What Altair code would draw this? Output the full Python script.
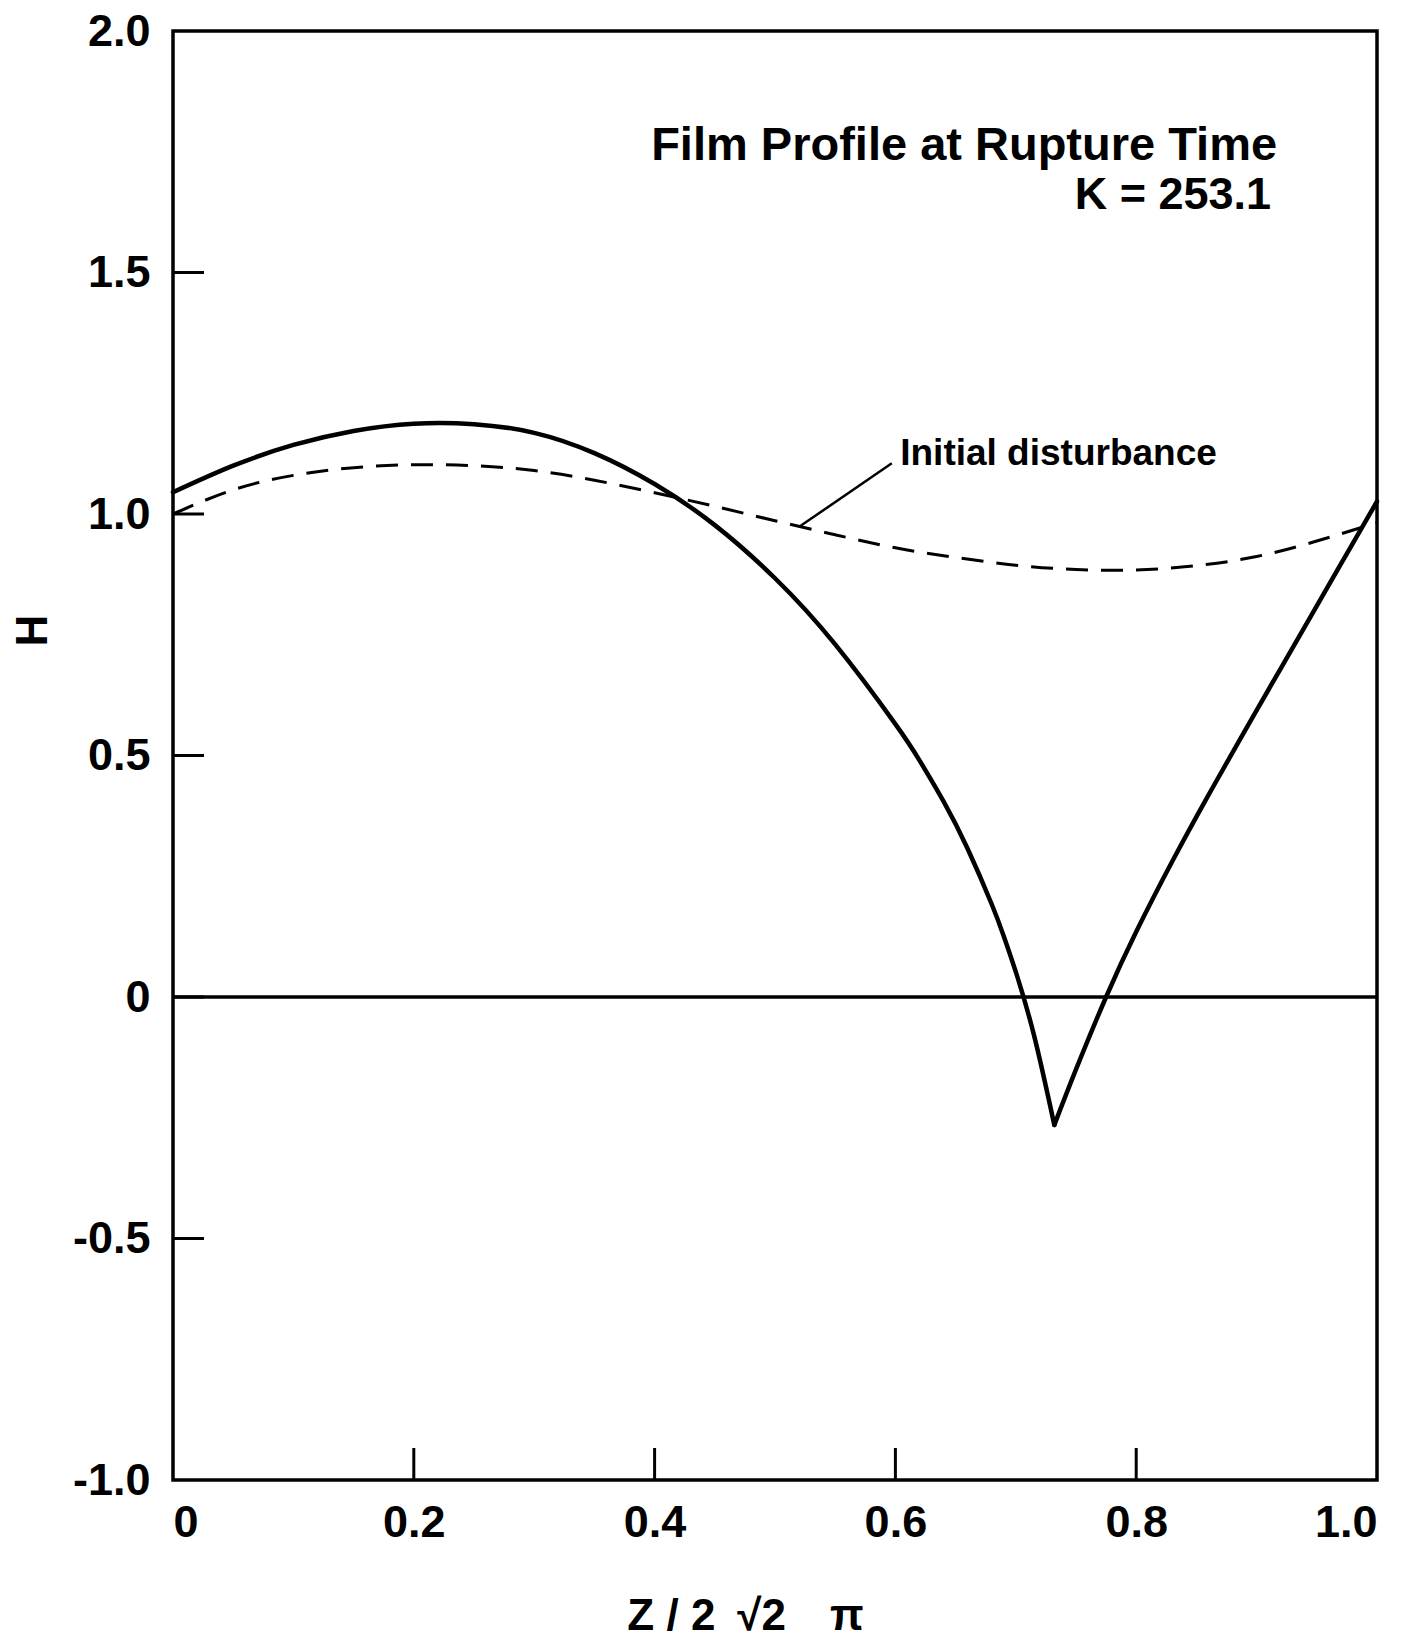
import altair as alt
import pandas as pd

# ---- data ----
# solid curve: film profile at rupture time (left branch up to the cusp, then right branch)
solid_left_x = [0.0, 0.05, 0.10, 0.15, 0.20, 0.25, 0.30, 0.35, 0.40, 0.45, 0.50,
                0.55, 0.60, 0.62, 0.64, 0.66, 0.68, 0.69, 0.70, 0.715, 0.732]
solid_left_h = [1.045, 1.100, 1.143, 1.172, 1.187, 1.186, 1.168, 1.126, 1.062, 0.977, 0.867,
                0.730, 0.565, 0.490, 0.405, 0.307, 0.192, 0.126, 0.052, -0.078, -0.265]
solid_right_x = [0.732, 0.75, 0.775, 0.80, 0.83, 0.86, 0.89, 0.92, 0.95, 0.975, 1.0]
solid_right_h = [-0.265, -0.150, 0.0, 0.135, 0.281, 0.418, 0.550, 0.680, 0.810, 0.918, 1.026]

# dashed curve: initial disturbance
dash_x = [0.0, 0.05, 0.10, 0.15, 0.20, 0.25, 0.30, 0.35, 0.40, 0.45, 0.50,
          0.55, 0.60, 0.65, 0.70, 0.75, 0.80, 0.85, 0.90, 0.95, 1.0]
dash_h = [1.0, 1.05, 1.08, 1.096, 1.102, 1.100, 1.090, 1.070, 1.044, 1.016, 0.986,
          0.957, 0.930, 0.910, 0.894, 0.885, 0.884, 0.893, 0.912, 0.944, 0.982]

# leader line for the "Initial disturbance" label
leader_x = [0.521, 0.597]
leader_h = [0.975, 1.105]

# annotations
title_text = ["Film Profile at Rupture Time"]
title_x = [0.917]
title_h = [1.733]

k_text = ["K = 253.1"]
k_x = [0.912]
k_h = [1.631]

label_text = ["Initial disturbance"]
label_x = [0.604]
label_h = [1.102]

x_ticks = [0.0, 0.2, 0.4, 0.6, 0.8, 1.0]
y_ticks = [-1.0, -0.5, 0.0, 0.5, 1.0, 1.5, 2.0]
x_inner_ticks = [0.2, 0.4, 0.6, 0.8]
y_inner_ticks = [-0.5, 0.0, 0.5, 1.0, 1.5]
zero_line = [0.0]

W, H = 1204, 1449
FONT = "Liberation Sans"

# ---- tables ----
df_solid = pd.DataFrame(
    [{"x": x, "h": h, "seg": "a"} for x, h in zip(solid_left_x, solid_left_h)]
    + [{"x": x, "h": h, "seg": "b"} for x, h in zip(solid_right_x, solid_right_h)]
)
df_dash = pd.DataFrame({"x": dash_x, "h": dash_h})
df_leader = pd.DataFrame({"x": leader_x, "h": leader_h})
df_title = pd.DataFrame({"x": title_x, "h": title_h, "t": title_text})
df_k = pd.DataFrame({"x": k_x, "h": k_h, "t": k_text})
df_label = pd.DataFrame({"x": label_x, "h": label_h, "t": label_text})
df_xt = pd.DataFrame({"x": x_inner_ticks})
df_yt = pd.DataFrame({"h": y_inner_ticks})
df_zero = pd.DataFrame({"h": zero_line})

xs = alt.Scale(domain=[0, 1], nice=False, zero=False)
ys = alt.Scale(domain=[-1, 2], nice=False, zero=False)

lab_expr = ("datum.value == 0 ? '0' : "
            "(datum.value < 0 ? '-' : '') + format(abs(datum.value), '.1f')")

x_axis = alt.Axis(values=x_ticks, labelExpr=lab_expr, domain=False, ticks=False, grid=False,
                  labelFont=FONT, labelFontWeight="bold", labelFontSize=45, labelColor="black",
                  labelPadding=20,
                  title="Z / 2\u2002\u221a2\u2002\u2002\u03c0", titleFont=FONT,
                  titleFontWeight="bold",
                  titleFontSize=44, titleColor="black", titleX=572, titleY=136,
                  titleAlign="center", titleBaseline="middle")
y_axis = alt.Axis(values=y_ticks, labelExpr=lab_expr, domain=False, ticks=False, grid=False,
                  labelFont=FONT, labelFontWeight="bold", labelFontSize=45, labelColor="black",
                  labelPadding=23,
                  title="H", titleFont=FONT, titleFontWeight="bold", titleFontSize=44,
                  titleColor="black", titleX=-140, titleY=599, titleAlign="center",
                  titleBaseline="middle", titleAngle=270)


def X():
    return alt.X("x:Q", scale=xs, axis=x_axis)


def Y():
    return alt.Y("h:Q", scale=ys, axis=y_axis)


solid = alt.Chart(df_solid).mark_line(color="black", strokeWidth=4.5, interpolate="natural",
                                      strokeCap="round", strokeJoin="round").encode(
    x=X(), y=Y(), detail="seg:N",
)

dashed = alt.Chart(df_dash).mark_line(color="black", strokeWidth=3, strokeDash=[22, 13],
                                      interpolate="natural").encode(x=X(), y=Y())

leader = alt.Chart(df_leader).mark_line(color="black", strokeWidth=2.5).encode(x=X(), y=Y())

zero = alt.Chart(df_zero).mark_rule(color="black", strokeWidth=3.5).encode(y=Y())

xt = alt.Chart(df_xt).mark_rule(color="black", strokeWidth=3).encode(
    x=X(), y=alt.value(H), y2=alt.value(H - 32),
)
yt = alt.Chart(df_yt).mark_rule(color="black", strokeWidth=3).encode(
    y=Y(), x=alt.value(0), x2=alt.value(31),
)

title = alt.Chart(df_title).mark_text(align="right", baseline="alphabetic", font=FONT,
                                      fontWeight="bold", fontSize=47, color="black").encode(
    x=X(), y=Y(), text="t:N",
)
kline = alt.Chart(df_k).mark_text(align="right", baseline="alphabetic", font=FONT,
                                  fontWeight="bold", fontSize=45, color="black").encode(
    x=X(), y=Y(), text="t:N",
)
label = alt.Chart(df_label).mark_text(align="left", baseline="alphabetic", font=FONT,
                                      fontWeight="bold", fontSize=37, color="black").encode(
    x=X(), y=Y(), text="t:N",
)

chart = alt.layer(solid, dashed, leader, zero, xt, yt, title, kline, label).properties(
    width=W, height=H,
    autosize=alt.AutoSizeParams(type="none"),
    padding={"left": 173, "top": 31, "right": 27, "bottom": 158},
    background="white",
).configure_view(stroke="black", strokeWidth=3.5)

chart.save("out.html", embed_options={"renderer": "svg", "actions": False})
